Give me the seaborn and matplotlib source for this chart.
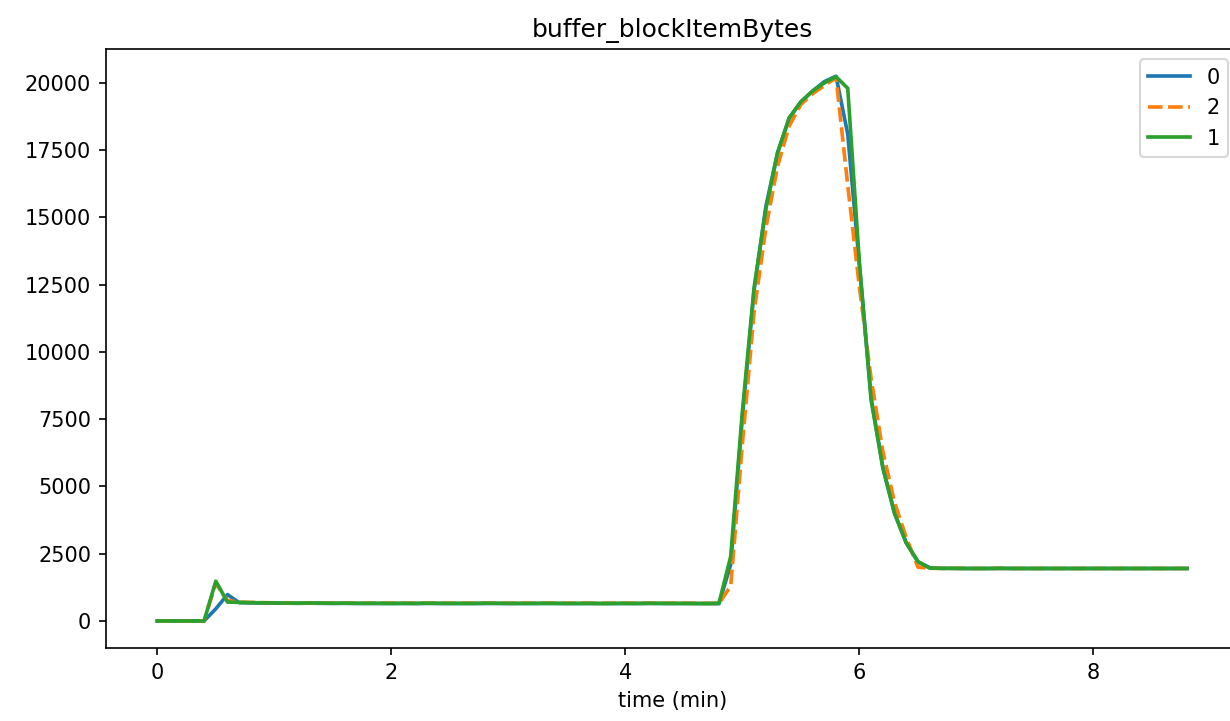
import numpy as np
import pandas as pd
import matplotlib
matplotlib.use("Agg")
import matplotlib.pyplot as plt
import seaborn as sns

# time grid (minutes), one sample every 0.1 min
time_min = [round(0.1 * i, 1) for i in range(89)]

series_0 = ([0, 0, 0, 0, 0, 450, 980, 680, 670, 665,
             660, 660, 655, 660, 655, 650, 655, 650, 650, 650,
             648, 650, 648, 652, 650, 648, 650, 648, 650, 652,
             648, 650, 648, 650, 652, 648, 648, 650, 646, 648,
             650, 648, 652, 650, 648, 650, 648, 646, 640, 2100,
             7600, 12300, 15400, 17400, 18700, 19300, 19700, 20050, 20250, 18100,
             13200, 8300, 5700, 4000, 2900, 2200, 1980]
            + [1955, 1955, 1950, 1950, 1950, 1955, 1950, 1950, 1950, 1950,
               1950, 1950, 1950, 1950, 1950, 1950, 1950, 1950, 1950, 1950,
               1950, 1950])

series_2 = ([0, 0, 0, 0, 0, 1400, 760, 700, 690, 680,
             675, 670, 665, 670, 665, 660, 662, 660, 660, 658,
             660, 660, 658, 662, 662, 660, 658, 660, 662, 660,
             658, 660, 660, 662, 660, 658, 660, 658, 656, 660,
             658, 656, 660, 658, 660, 658, 656, 655, 650, 1300,
             6600, 11500, 14600, 16900, 18400, 19200, 19600, 19900, 20200, 16200,
             12400, 9000, 6300, 4400, 3100, 2000, 1960]
            + [1955, 1955, 1955, 1950, 1950, 1955, 1950, 1950, 1950, 1950,
               1950, 1950, 1950, 1950, 1950, 1950, 1950, 1950, 1950, 1950,
               1950, 1950])

series_1 = ([0, 0, 0, 0, 0, 1480, 700, 690, 680, 675,
             670, 665, 662, 668, 664, 660, 660, 656, 655, 655,
             652, 655, 652, 658, 655, 652, 650, 652, 658, 655,
             652, 650, 652, 656, 652, 650, 650, 652, 648, 650,
             652, 650, 656, 652, 650, 650, 648, 646, 660, 2400,
             7800, 12400, 15300, 17400, 18700, 19300, 19700, 20000, 20230, 19800,
             13300, 8200, 5700, 4000, 2900, 2200, 1965]
            + [1955, 1955, 1950, 1950, 1950, 1955, 1950, 1950, 1950, 1950,
               1950, 1950, 1950, 1950, 1950, 1950, 1950, 1950, 1950, 1950,
               1950, 1950])

labels = ["0", "2", "1"]
values = [series_0, series_2, series_1]

frames = []
for lab, vals in zip(labels, values):
    frames.append(pd.DataFrame({"time (min)": time_min, "value": vals, "node": lab}))
df = pd.concat(frames, ignore_index=True)

fig, ax = plt.subplots(figsize=(8.2, 4.807), dpi=150)
fig.subplots_adjust(left=0.086, right=1.007, top=0.932, bottom=0.101)

sns.lineplot(data=df, x="time (min)", y="value", hue="node", style="node",
             hue_order=labels, style_order=labels,
             palette=["#1f77b4", "#ff7f0e", "#2ca02c"],
             dashes={"0": "", "2": (4, 1.5), "1": ""},
             linewidth=1.75, ax=ax)

ax.set_title("buffer_blockItemBytes", fontsize=12)
ax.set_xlabel("time (min)", fontsize=10)
ax.set_ylabel("")
ax.tick_params(labelsize=10)
handles, labs = ax.get_legend_handles_labels()
ax.legend(handles, labs, loc="upper right", fontsize=10)

fig.savefig("out.png", dpi=150)
